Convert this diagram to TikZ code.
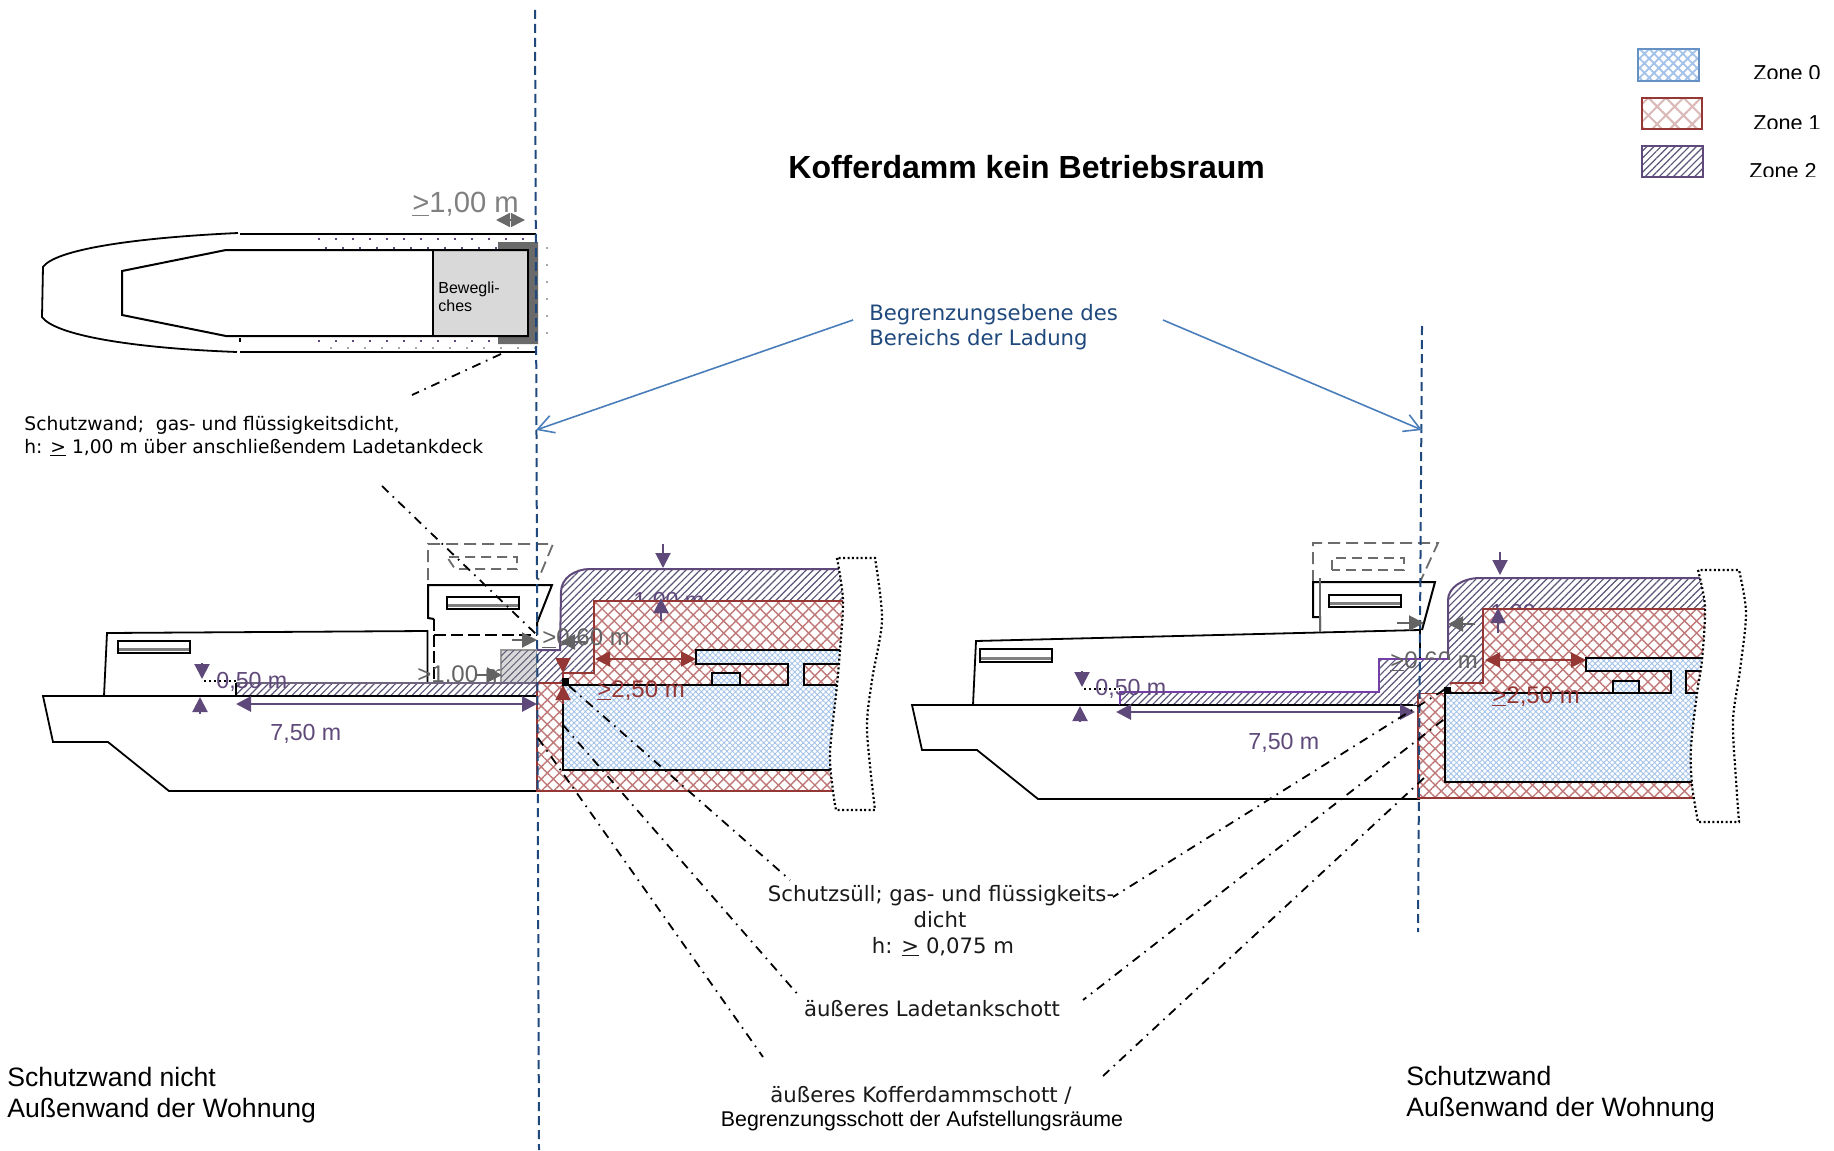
\documentclass[tikz,border=0pt]{standalone}
\usepackage{fontspec}
\setmainfont{Liberation Sans}
\newfontfamily\vd{DejaVu Sans}
\usetikzlibrary{arrows.meta,patterns.meta}
\definecolor{zpurple}{HTML}{5F497A}
\definecolor{zbright}{HTML}{7440A8}
\definecolor{zred}{HTML}{953735}
\definecolor{zblue}{HTML}{4A7EBB}
\definecolor{zdark}{HTML}{1F497D}
\definecolor{zgray}{HTML}{636363}
\definecolor{hatchO}{HTML}{A3C2EA}
\definecolor{hatchA}{HTML}{C07878}
\definecolor{hatchB}{HTML}{5A5478}
\newcommand{\gequ}{\underline{>}}
\tikzset{
 blk/.style={black,line width=1pt,line join=miter},
 zoneO/.style={preaction={fill=white},pattern={Hatch[angle=45,distance=2pt,line width=.42pt]},pattern color=hatchO},
 zoneA/.style={preaction={fill=white},pattern={Hatch[angle=45,distance=4.3pt,line width=.7pt]},pattern color=hatchA},
 zoneB/.style={preaction={fill=white},pattern={Lines[angle=45,distance=2.5pt,line width=.6pt]},pattern color=hatchB},
 legO/.style={preaction={fill=white},pattern={Hatch[angle=45,distance=3.4pt,line width=.9pt]},pattern color=hatchO},
 legA/.style={preaction={fill=white},pattern={Hatch[angle=45,distance=6.2pt,line width=1pt]},pattern color=zred!35!white},
 ptxt/.style={anchor=base west,inner sep=0pt,text=zpurple,font=\fontsize{11.6}{14}\selectfont},
 rtxt/.style={anchor=base west,inner sep=0pt,text=zred,font=\fontsize{12}{14}\selectfont},
 gtxt/.style={anchor=base west,inner sep=0pt,text=zgray,font=\fontsize{12}{14}\selectfont},
 ktxt/.style={anchor=base west,inner sep=0pt,text=black},
 vtxt/.style={anchor=base,inner sep=0pt,text=black!90,font=\vd\fontsize{10.6}{13}\selectfont},
 parrow/.style={zpurple,line width=1pt,-{Triangle[length=7.5pt,width=7.5pt]}},
 pdouble/.style={zpurple,line width=1.4pt,{Triangle[length=7.5pt,width=7.5pt]}-{Triangle[length=7.5pt,width=7.5pt]}},
 rarrow/.style={zred,line width=1pt,-{Triangle[length=7.5pt,width=7.5pt]}},
 rdouble/.style={zred,line width=1pt,{Triangle[length=7.5pt,width=7.5pt]}-{Triangle[length=7.5pt,width=7.5pt]}},
 garrow/.style={zgray,line width=1pt,-{Triangle[length=7.5pt,width=7.5pt]}},
 bluearrow/.style={zblue,line width=.8pt,-{Straight Barb[length=8pt,width=9pt,line width=.8pt]}},
 planebound/.style={zdark,line width=1pt,dash pattern=on 4.5pt off 2.5pt},
 leader/.style={black,line width=.9pt,dash pattern=on 4.5pt off 3pt on .8pt off 3pt},
 ghost/.style={gray!85!black,line width=.9pt,dash pattern=on 6pt off 3pt},
 breakbox/.style={black,line width=1.1pt,dash pattern=on 1pt off 1.2pt,fill=white},
 plandots/.style={zpurple,line width=.9pt,dash pattern=on .9pt off 7.6pt},
}
\newcommand{\wwin}[4]{%
 \draw[black,line width=1.1pt,fill=white] (#1,#2) rectangle (#3,#4);
 \draw[gray,line width=1.4pt] (#1+1,#4-3.5) -- (#3-1,#4-3.5);}
\begin{document}
\begin{tikzpicture}[x=0.5pt,y=-0.5pt]
\useasboundingbox (0,0) rectangle (1834,1150);
\fill[white] (0,0) rectangle (1834,1150);

%% title
\begin{scope}
\clip (700,140) rectangle (1300,177.5);
\node[ktxt,font=\bfseries\fontsize{16}{18}\selectfont] (title) at (788,178.5) {Kofferdamm kein Betriebsraum};
\end{scope}

%% legend
\draw[zblue!85!white,line width=1.1pt,legO] (1638,49) rectangle (1699,81);
\draw[zred,line width=1.1pt,legA] (1642,98) rectangle (1702,129);
\draw[zpurple,line width=1.1pt,zoneB] (1642,146) rectangle (1703,177);
\begin{scope}
\clip (1740,50) rectangle (1834,79);
\node[ktxt,font=\fontsize{10.8}{13}\selectfont] (zn0) at (1753,81) {Zone 0};
\end{scope}
\begin{scope}
\clip (1740,100) rectangle (1834,129);
\node[ktxt,font=\fontsize{10.8}{13}\selectfont] (zn1) at (1753,131) {Zone 1};
\end{scope}
\begin{scope}
\clip (1740,150) rectangle (1834,177);
\node[ktxt,font=\fontsize{10.8}{13}\selectfont] (zn2) at (1749,178.5) {Zone 2};
\end{scope}

%% plan view
\draw[plandots] (318,239) -- (532,239);
\draw[plandots] (325,248) -- (532,248);
\draw[plandots] (318,341) -- (532,341);
\draw[gray!70!white,line width=.9pt,dash pattern=on .9pt off 7.6pt] (547,247) -- (547,335);
\draw[gray!70!white,line width=.9pt,dash pattern=on .9pt off 7.6pt] (330,348) -- (545,348);
\fill[gray!70!black!90] (498,242) -- (538,242) -- (538,344) -- (498,344) -- (498,336) -- (528,336) -- (528,250) -- (498,250) -- cycle;
\draw[blk,fill=gray!30] (433,250) rectangle (528,336);
\draw[blk,line width=.9pt] (238,233) .. controls (130,238) and (55,250) .. (43,267) -- (42,317) .. controls (55,335) and (130,348) .. (237,352);
\draw[blk] (240,234) -- (536,234);
\draw[blk] (240,352) -- (536,352);
\draw[blk] (240,338) -- (240,342);
\draw[blk] (528,250) -- (226,250) -- (122,271) -- (122,315) -- (226,336) -- (528,336);
\node[ktxt,font=\fontsize{8}{9.5}\selectfont,align=left] (bew1) at (438,293) {Bewegli-};
\node[ktxt,font=\fontsize{8}{9.5}\selectfont,align=left] (bew2) at (438,311) {ches};
\node[anchor=base west,inner sep=0pt,text=gray,font=\fontsize{14.6}{17}\selectfont] (d100top) at (412,213) {\gequ 1,00 m};
\draw[gray!70!black!90,line width=.8pt,{Triangle[length=7pt,width=7pt]}-{Triangle[length=7pt,width=7pt]}] (496,220) -- (525,220);
\coordinate (wallend) at (501,354);
\coordinate (wallstart) at (412,395);
\draw[leader] (wallend) -- (wallstart);
\node[ktxt,font=\vd\fontsize{9.34}{12}\selectfont] (wall1) at (24,430) {Schutzwand;\ \ gas- und flüssigkeitsdicht,};
\node[ktxt,font=\vd\fontsize{9.34}{12}\selectfont] (wall2) at (24,453) {h: \gequ{} 1,00 m über anschließendem Ladetankdeck};

%% plane text
\node[anchor=base west,inner sep=0pt,text=zdark,font=\vd\fontsize{10.6}{13}\selectfont] (bg1) at (869,320) {Begrenzungsebene des};
\node[anchor=base west,inner sep=0pt,text=zdark,font=\vd\fontsize{10.6}{13}\selectfont] (bg2) at (869,345) {Bereichs der Ladung};

%%%%% LEFT SECTION
% hull
\draw[blk,line width=.9pt] (537,696) -- (43,696) -- (53,742) -- (108,742) -- (169,791) -- (537,791);
\draw[blk,line width=.9pt] (104,696) -- (107,633) -- (427.5,631) -- (427.5,683);
\wwin{118}{641}{190}{653}
\draw[black,line width=.9pt,dash pattern=on 1pt off 1.5pt] (204,681) -- (236,681);
% wheelhouse ghost
\draw[ghost] (428,580) -- (428,544) -- (553,544) -- (538,580);
\draw[ghost,dash pattern=on 5pt off 3pt] (449,557) -- (517,557) -- (517,569) -- (455,569) -- (447,557);
% wheelhouse
\draw[blk] (434,619) -- (428,618) -- (428,585) -- (552,585) -- (537,623) -- (537,635);
\wwin{447}{597}{519}{609}
\draw[black,line width=1.3pt,dash pattern=on 6pt off 2pt] (434,619) -- (434,680);
\draw[black,line width=1pt,dash pattern=on 6pt off 2.5pt] (434,635) -- (537,635);
% gray box, text
\node[gtxt] (d100l) at (417,682) {\gequ 1,00 m};
\draw[gray!80!white,line width=1pt,fill=gray!30] (501,650) rectangle (537,683);
\path[pattern={Lines[angle=45,distance=2.5pt,line width=.5pt]},pattern color=hatchB!80!gray] (501,650) rectangle (537,683);
% zone 2
\path[zoneB] (537,650) -- (560,650) -- (561,592) .. controls (561,578) and (575,569) .. (590,569) -- (860,569) -- (860,601) -- (594,601) -- (594,673) -- (563,673) -- (563,683) -- (537,683) -- cycle;
\path[zoneB] (236,683) rectangle (537,696);
\draw[gray!50!zpurple,line width=.6pt] (236,683) -- (537,683);
\draw[blk] (236,683) -- (236,696);
\draw[blk] (236,696) -- (537,696);
\draw[zpurple,line width=1pt] (537,650) -- (560,650) -- (561,592) .. controls (561,578) and (575,569) .. (590,569) -- (860,569);
\node[ptxt] (d100pl) at (633,608) {1,00 m};
% zone 1
\path[zoneA] (594,601) -- (860,601) -- (860,791) -- (537,791) -- (537,683) -- (563,683) -- (563,673) -- (594,673) -- cycle;
\draw[zred,line width=1pt] (860,601) -- (594,601) -- (594,673) -- (563,673) -- (563,683) -- (537,683) -- (537,791) -- (860,791);
% zone 0
\path[zoneO] (563,685) rectangle (860,770);
\path[zoneO] (696,650) -- (860,650) -- (860,664) -- (804,664) -- (804,685) -- (788,685) -- (788,664) -- (696,664) -- cycle;
\draw[blk] (860,650) -- (696,650) -- (696,664) -- (788,664) -- (788,685) -- (563,685) -- (563,770) -- (860,770);
\draw[blk] (860,685) -- (804,685) -- (804,664) -- (860,664);
\draw[blk,zoneO] (712,673) rectangle (740,685);
% break
\draw[breakbox] plot[smooth] coordinates {(837,558) (843,600) (840,650) (837,685) (830,753) (833,791) (836,810)} -- plot[smooth] coordinates {(875,810) (867,730) (872,680) (882,620) (875,558)} -- cycle;
% plane line
\coordinate (pl1) at (535,10);
\coordinate (pl2) at (539,1150);
\draw[planebound] (pl1) -- (pl2);
% dimensions
\draw[parrow] (202,663) -- (202,679);
\draw[parrow] (200,714) -- (200,697);
\node[ptxt] (d050l) at (216,688) {0,50 m};
\draw[pdouble] (236,704) -- (537,704);
\node[ptxt] (d750l) at (270,740) {7,50 m};
\draw[parrow] (663,544) -- (663,568);
\draw[parrow] (661,621) -- (661,598);
\draw[rdouble] (595,659) -- (696,659);
\draw[rarrow] (563,658) -- (563,673);
\draw[rarrow] (563,704) -- (563,685);
\node[rtxt] (d250l) at (597,697) {\gequ 2,50 m};
\node[gtxt] (d060l) at (542,645) {\gequ 0,60 m};
\draw[garrow] (512,640) -- (537,640);
\draw[garrow] (585,642) -- (560,642);
\draw[garrow] (477,675) -- (502,675);
\fill[black] (562,678) rectangle (569,686);

%%%%% RIGHT SECTION
\draw[blk,line width=.9pt] (1420,705) -- (912,705) -- (922,750) -- (977,750) -- (1038,799) -- (1420,799);
\draw[blk,line width=.9pt] (973,705) -- (976,641) -- (1420,630) -- (1420,660);
\wwin{980}{649}{1052}{662}
\draw[black,line width=.9pt,dash pattern=on 1pt off 1.5pt] (1084,689) -- (1120,689);
% ghost
\draw[ghost] (1313,582) -- (1313,543) -- (1438,543) -- (1420,582);
\draw[ghost,dash pattern=on 5pt off 3pt] (1332,570) -- (1332,558) -- (1404,558) -- (1404,570) -- cycle;
% wheelhouse
\draw[blk] (1320,632) -- (1320,617) -- (1313,617) -- (1313,582) -- (1435,582) -- (1422,630);
\wwin{1329}{595}{1401}{607}
\draw[gray!80!black,line width=1pt] (1320,578) -- (1320,632);
% zone 2
\path[zoneB] (1120,705) -- (1120,692) -- (1379,692) -- (1379,659) -- (1448,659) -- (1448,600) .. controls (1448,588) and (1462,578) .. (1480,578) -- (1720,578) -- (1720,609) -- (1483,609) -- (1483,683) -- (1448,683) -- (1448,693) -- (1418,693) -- (1418,705) -- cycle;
\draw[zbright,line width=.9pt] (1120,705) -- (1120,692) -- (1379,692) -- (1379,659) -- (1450,659);
\draw[blk,line width=.9pt] (1120,705) -- (1413,705);
\draw[zpurple,line width=1pt] (1448,659) -- (1448,600) .. controls (1448,588) and (1462,578) .. (1480,578) -- (1720,578);
\node[ptxt] (d100pr) at (1490,620) {1,00 m};
% zone 1
\path[zoneA] (1483,609) -- (1720,609) -- (1720,798) -- (1418,798) -- (1418,693) -- (1448,693) -- (1448,683) -- (1483,683) -- cycle;
\draw[zred,line width=1pt] (1720,609) -- (1483,609) -- (1483,683) -- (1448,683) -- (1448,693);
\draw[zred,line width=.5pt] (1448,693) -- (1418,693);
\draw[zred,line width=1pt] (1418,693) -- (1418,798) -- (1720,798);
% dimension text with the part that the reference hides behind the hatching
\node[gtxt] (d060r) at (1390,668) {\gequ 0,60 m};
\path[zoneB] (1420,660) rectangle (1450,692);
% zone 0
\path[zoneO] (1445,693) rectangle (1720,782);
\path[zoneO] (1586,658) -- (1720,658) -- (1720,671) -- (1686,671) -- (1686,693) -- (1671,693) -- (1671,671) -- (1586,671) -- cycle;
\draw[blk] (1720,658) -- (1586,658) -- (1586,671) -- (1671,671) -- (1671,693) -- (1445,693) -- (1445,782) -- (1720,782);
\draw[blk] (1720,693) -- (1686,693) -- (1686,671) -- (1720,671);
\draw[blk,zoneO] (1613,681) rectangle (1639,693);
% break
\draw[breakbox] plot[smooth] coordinates {(1698,570) (1705,607) (1702,660) (1697,693) (1691,747) (1692,785) (1698,822)} -- plot[smooth] coordinates {(1739,822) (1736,780) (1733,720) (1740,670) (1746,613) (1739,570)} -- cycle;
% plane
\coordinate (pr1) at (1422,326);
\coordinate (pr2) at (1418,932);
\draw[planebound] (pr1) -- (pr2);
% dims
\draw[parrow] (1082,671) -- (1082,687);
\draw[parrow] (1080,722) -- (1080,706);
\node[ptxt] (d050r) at (1095,695) {0,50 m};
\draw[pdouble] (1116,712) -- (1415,712);
\node[ptxt] (d750r) at (1248,749) {7,50 m};
\draw[parrow] (1500,552) -- (1500,575);
\draw[parrow] (1498,633) -- (1498,608);
\draw[rdouble] (1485,660) -- (1586,660);
\node[rtxt] (d250r) at (1492,703) {\gequ 2,50 m};
\draw[garrow] (1397,623) -- (1424,623);
\draw[garrow] (1475,624) -- (1448,624);
\fill[black] (1444,687) rectangle (1451,693);

%% blue arrows
\coordinate (ba1) at (853,320);
\coordinate (ba2) at (536,430);
\coordinate (ba3) at (1163,320);
\coordinate (ba4) at (1422,430);
\draw[bluearrow] (ba1) -- (ba2);
\draw[bluearrow] (ba3) -- (ba4);

%% lower texts
\node[vtxt] (sull1) at (941,901) {Schutzsüll; gas- und flüssigkeits-};
\node[vtxt] (sull2) at (940,927) {dicht};
\node[vtxt] (sull3) at (943,953) {h: \gequ{} 0,075 m};
\node[vtxt] (lts) at (932,1016) {äußeres Ladetankschott};
\node[vtxt] (kds) at (921,1102) {äußeres Kofferdammschott /};
\node[anchor=base,inner sep=0pt,text=black,font=\fontsize{10.67}{12}\selectfont] (bgs) at (922,1126) {Begrenzungsschott der Aufstellungsräume};
\node[ktxt,font=\fontsize{13.3}{16}\selectfont] (cap1a) at (7,1086) {Schutzwand nicht};
\node[ktxt,font=\fontsize{13.3}{16}\selectfont] (cap1b) at (7,1117) {Außenwand der Wohnung};
\node[ktxt,font=\fontsize{13.3}{16}\selectfont] (cap2a) at (1406,1085) {Schutzwand};
\node[ktxt,font=\fontsize{13.3}{16}\selectfont] (cap2b) at (1406,1116) {Außenwand der Wohnung};

%% leaders
\coordinate (ll0) at (382,486);
\coordinate (ll0e) at (537,635);
\coordinate (ll1) at (569,686);
\coordinate (ll1e) at (790,880);
\coordinate (ll2) at (563,725);
\coordinate (ll2e) at (800,997);
\coordinate (ll3) at (538,738);
\coordinate (ll3e) at (763,1057);
\coordinate (rl1) at (1444,690);
\coordinate (rl1e) at (1113,897);
\coordinate (rl2) at (1443,720);
\coordinate (rl2e) at (1083,1000);
\coordinate (rl3) at (1424,778);
\coordinate (rl3e) at (1103,1076);
\draw[leader] (ll0) -- (ll0e);
\draw[leader] (ll1) -- (ll1e);
\draw[leader] (ll2) -- (ll2e);
\draw[leader] (ll3) -- (ll3e);
\draw[leader] (rl1) -- (rl1e);
\draw[leader] (rl2) -- (rl2e);
\draw[leader] (rl3) -- (rl3e);
\end{tikzpicture}
\end{document}
